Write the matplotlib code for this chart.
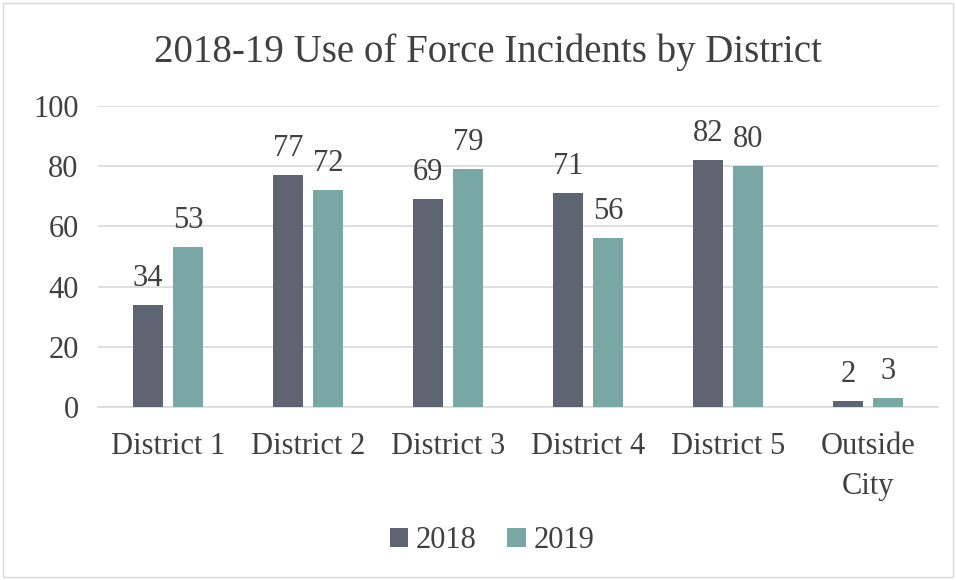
import numpy as np
import matplotlib.pyplot as plt
from matplotlib.patches import Rectangle

districts = ["District 1", "District 2", "District 3", "District 4", "District 5", "Outside\nCity"]
vals_2018 = [34, 77, 69, 71, 82, 2]
vals_2019 = [53, 72, 79, 56, 80, 3]

c18 = "#5f6472"
c19 = "#79a8a4"
txt = "#404040"

plt.rcParams['font.family'] = ['Liberation Serif', 'DejaVu Serif']

fig = plt.figure(figsize=(9.56, 5.8), dpi=100)
ax = fig.add_axes([98/956, 1 - 407/580, 840/956, 301/580])

x = np.arange(len(districts))
w = 0.22
gap = 0.065
b1 = ax.bar(x - (w + gap) / 2, vals_2018, w, color=c18, label="2018", zorder=3)
b2 = ax.bar(x + (w + gap) / 2, vals_2019, w, color=c19, label="2019", zorder=3)

for bars, vals in ((b1, vals_2018), (b2, vals_2019)):
    for b, v in zip(bars, vals):
        ax.text(b.get_x() + b.get_width() / 2, v + 4, str(v), ha="center", va="bottom",
                fontsize=22, color=txt)

ax.set_xlim(-0.5, len(districts) - 0.5)
ax.set_ylim(0, 100)
ax.set_yticks(range(0, 101, 20))
ax.set_xticks(x)
ax.set_xticklabels(districts, fontsize=22, color=txt, linespacing=1.5)
ax.tick_params(axis="y", labelsize=22, labelcolor=txt, length=0, pad=14)
ax.tick_params(axis="x", length=0, pad=18)
ax.yaxis.grid(True, color="#d9d9d9", linewidth=1.2, zorder=0)
for s in ("top", "right", "left"):
    ax.spines[s].set_visible(False)
ax.spines["bottom"].set_color("#d9d9d9")
ax.spines["bottom"].set_linewidth(1.2)

fig.text(488/956, 1 - 52/580, "2018-19 Use of Force Incidents by District", ha="center", va="center",
         fontsize=28, color=txt)

fig.legend(handles=[b1, b2], loc="center", bbox_to_anchor=(492/956, 1 - 541/580), ncol=2,
           frameon=False, fontsize=22, handlelength=0.6, handleheight=0.6,
           handletextpad=0.25, columnspacing=1.0, labelcolor=txt)

fig.patches.append(Rectangle((3/956, 3/580), 950/956, 574/580, transform=fig.transFigure,
                             fill=False, edgecolor="#d9d9d9", linewidth=1))

fig.savefig("out.png", dpi=100)
